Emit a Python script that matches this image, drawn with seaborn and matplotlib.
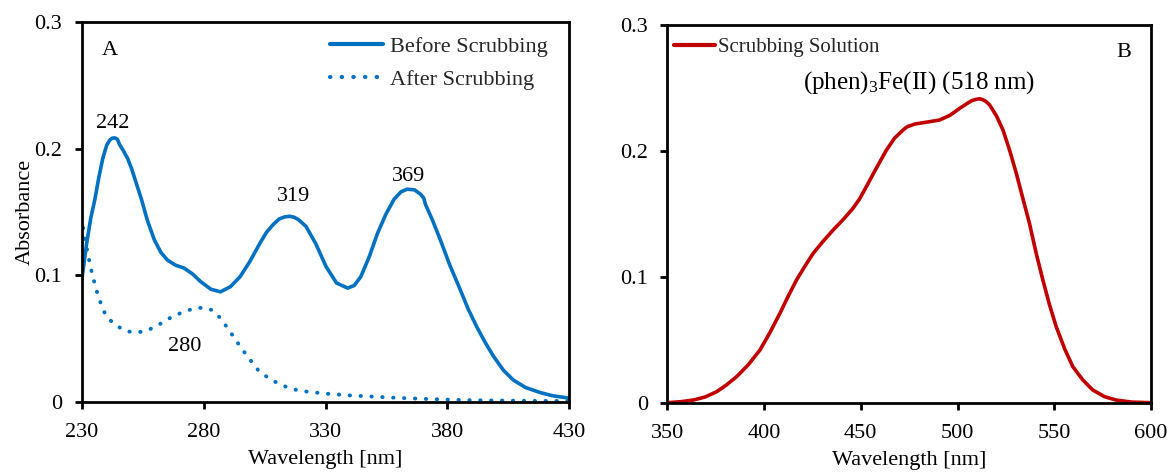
import numpy as np
import pandas as pd
import matplotlib
matplotlib.use("Agg")
import matplotlib.pyplot as plt
import seaborn as sns

# ---- data ----
before_wl = [230, 232, 233.7, 235.4, 237, 238.6, 240.2, 241.5, 242.6, 243.6, 244.6, 245.6, 247.2,
             248.9, 250.5, 252, 254.5, 257, 259.8, 262.5, 265.2,
             268.5, 272, 275.5, 278.8, 283, 286.9, 291, 295, 299, 303, 305.8, 308.5, 311, 313.4,
             315.3, 317.2, 319, 322, 326, 330.2, 334.5, 339.1, 341.8, 344.5, 348, 351.3, 354.7,
             358.1, 361, 363.5, 366.5, 369, 370.3, 371, 374, 377.1, 381, 385.3, 388.5, 392, 395.5,
             399, 403, 407, 412, 418, 423, 430]
before_abs = [0.096, 0.125, 0.145, 0.160, 0.177, 0.192, 0.2025, 0.2068, 0.2083, 0.2085, 0.2075,
              0.203, 0.198, 0.192, 0.184, 0.175, 0.160, 0.143, 0.128, 0.118, 0.112,
              0.108, 0.1057, 0.101, 0.095, 0.089, 0.087, 0.091, 0.099, 0.111, 0.125, 0.134, 0.140,
              0.1445, 0.1462, 0.1466, 0.1458, 0.1438, 0.1386, 0.125, 0.107, 0.094, 0.0899, 0.092,
              0.099, 0.115, 0.133, 0.148, 0.160, 0.166, 0.168, 0.1675, 0.164, 0.161, 0.156, 0.143,
              0.128, 0.108, 0.0885, 0.0735, 0.0595, 0.047, 0.0358, 0.025, 0.0174, 0.0115, 0.0075,
              0.005, 0.003]

after_wl = [230, 231, 232.7, 234.3, 236, 237.8, 239.5, 242, 245, 248, 251.5, 255, 258.6, 262.5,
            266.8, 271.5, 276.3, 280, 283.3, 286.5, 290, 292.8, 295.5, 299, 302.3, 306.5, 310.5,
            315, 320, 325, 331, 340, 350, 358, 370, 385, 400, 415, 430]
after_abs = [0.146, 0.132, 0.115, 0.101, 0.0885, 0.078, 0.070, 0.064, 0.0595, 0.056, 0.055, 0.0555,
             0.058, 0.062, 0.067, 0.071, 0.074, 0.0745, 0.0727, 0.067, 0.058, 0.050, 0.0425, 0.0335,
             0.0253, 0.019, 0.0148, 0.011, 0.0087, 0.0076, 0.0065, 0.0052, 0.0042, 0.0034, 0.0025,
             0.0016, 0.0012, 0.0009, 0.0008]

sol_wl = [350, 357, 363.4, 369.5, 375.5, 380.5, 385.8, 391.8, 397.9, 403, 408.2, 412.5, 416.8, 421,
          425.4, 430.5, 435.7, 441, 446, 449.5, 452.9, 458, 463.3, 467.5, 471.9, 474, 478, 480.5,
          485.5, 490.8, 496, 501.1, 505.5, 507.5, 509.7, 511.5, 513, 514.8, 516.6, 520, 523.5, 527,
          530.4, 533.8, 537.2, 540.6, 544.1, 547.5, 551, 555.3, 559.6, 564.8, 569.9, 576, 582,
          590, 600]
sol_abs = [0.0, 0.0008, 0.0021, 0.0045, 0.0087, 0.014, 0.0206, 0.030, 0.0418, 0.0555, 0.0709,
           0.0845, 0.0974, 0.108, 0.1185, 0.128, 0.137, 0.1455, 0.1543, 0.162, 0.1715, 0.186,
           0.2006, 0.210, 0.2165, 0.219, 0.2212, 0.2218, 0.223, 0.2244, 0.228, 0.2336, 0.238,
           0.2398, 0.2408, 0.2412, 0.2405, 0.239, 0.2363, 0.228, 0.2165, 0.200, 0.182, 0.162,
           0.1423, 0.119, 0.0974, 0.078, 0.0604, 0.043, 0.0286, 0.018, 0.0101, 0.0048, 0.0021,
           0.0005, 0.0]

left_xticks = [230, 280, 330, 380, 430]
right_xticks = [350, 400, 450, 500, 550, 600]
yticks = [0, 0.1, 0.2, 0.3]
ytick_labels = ["0", "0.1", "0.2", "0.3"]

peak_labels = ["242", "319", "369", "280"]
peak_pos = [(242.8, 0.2198), (317.1, 0.162), (363.9, 0.178), (272.4, 0.0435)]

# ---- style ----
sns.set_theme(style="white")
plt.rcParams["font.family"] = ["Liberation Serif", "DejaVu Serif"]
plt.rcParams["mathtext.fontset"] = "custom"
plt.rcParams["mathtext.rm"] = "Liberation Serif"
plt.rcParams["mathtext.it"] = "Liberation Serif:italic"

BLUE = "#0070C0"
RED = "#C00000"
FS = 16

fig = plt.figure(figsize=(11.69, 4.72), dpi=100)
axA = fig.add_axes([0.0699, 0.1483, 0.4171, 0.8051])
axB = fig.add_axes([0.5708, 0.1468, 0.4138, 0.8009])

dfA1 = pd.DataFrame({"wl": before_wl, "abs": before_abs})
dfA2 = pd.DataFrame({"wl": after_wl, "abs": after_abs})
dfB = pd.DataFrame({"wl": sol_wl, "abs": sol_abs})

sns.lineplot(data=dfA1, x="wl", y="abs", ax=axA, color=BLUE, lw=2.6,
             label="Before Scrubbing", sort=False)
sns.lineplot(data=dfA2, x="wl", y="abs", ax=axA, color=BLUE, lw=2.8,
             linestyle=(0, (0.1, 2.7)), dash_capstyle="round",
             label="After Scrubbing", sort=False)
sns.lineplot(data=dfB, x="wl", y="abs", ax=axB, color=RED, lw=2.6,
             label="Scrubbing Solution", sort=False)

for ax, xt, xl in [(axA, left_xticks, (230, 430)), (axB, right_xticks, (350, 600))]:
    ax.set_xlim(*xl)
    ax.set_ylim(0, 0.3)
    ax.set_xticks(xt)
    ax.set_xticklabels([str(v) for v in xt])
    ax.set_yticks(yticks)
    ax.set_yticklabels(ytick_labels)
    for s in ax.spines.values():
        s.set_visible(True)
        s.set_color("black")
        s.set_linewidth(2.0)
    ax.tick_params(axis="both", which="major", direction="out", length=5, width=2,
                   color="black", labelsize=FS, labelcolor="black",
                   bottom=True, left=True, top=False, right=False)
    ax.tick_params(axis="x", pad=10)
    ax.tick_params(axis="y", pad=9)
    ax.set_xlabel("Wavelength [nm]", fontsize=FS, color="black", labelpad=6)
    ax.grid(False)

axA.set_ylabel("Absorbance", fontsize=FS, color="black", labelpad=0)
axB.set_ylabel("")

legA = axA.legend(loc="upper right", frameon=False, fontsize=FS, handlelength=2.4,
                  handletextpad=0.3, labelspacing=0.55, borderaxespad=0.0, borderpad=0.3,
                  bbox_to_anchor=(0.969, 0.979))
for h in legA.get_lines():
    h.set_linewidth(3)
legB = axB.legend(loc="upper left", frameon=False, fontsize=15, handlelength=2.0,
                  handletextpad=0.15, borderaxespad=0.0, borderpad=0.3,
                  bbox_to_anchor=(0.0, 0.982))
for h in legB.get_lines():
    h.set_linewidth(3)

for lab, (x, y) in zip(peak_labels, peak_pos):
    axA.text(x, y, lab, ha="center", va="center", fontsize=FS, color="black")

axA.text(241.6, 0.2775, "A", ha="center", va="center", fontsize=FS, color="black")
axB.text(585.8, 0.278, "B", ha="center", va="center", fontsize=FS, color="black")
axB.text(480, 0.2537, r"(phen)$_3$Fe(II) (518 nm)", ha="center", va="center",
         fontsize=18, color="black")

fig.savefig("out.png", dpi=100)
